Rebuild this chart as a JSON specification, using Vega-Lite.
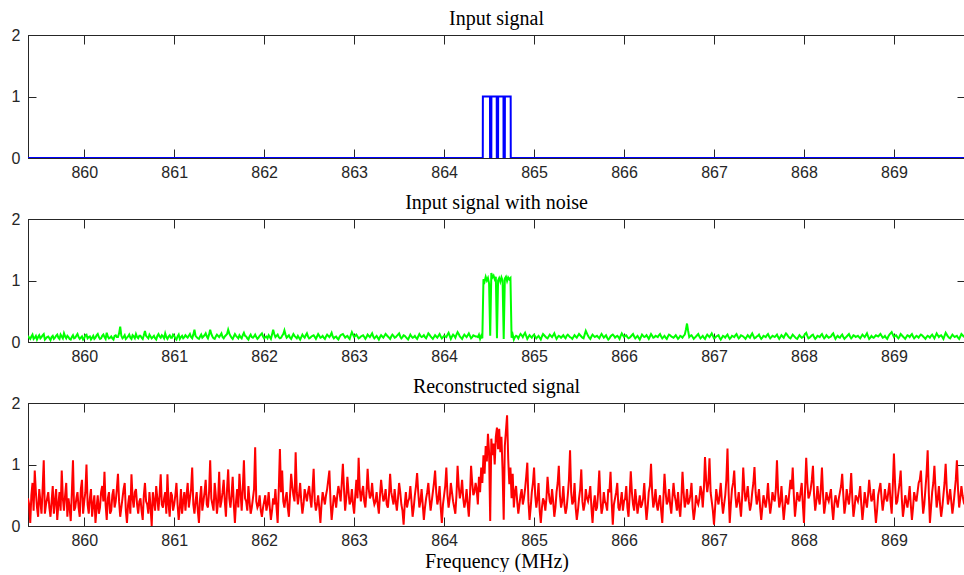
{
  "$schema": "https://vega.github.io/schema/vega-lite/v6.json",
  "background": "white",
  "padding": {"left": 10, "top": 8, "right": 0, "bottom": 0},
  "spacing": 11,
  "config": {
    "view": {"stroke": "#262626", "strokeWidth": 1},
    "axis": {
      "grid": false,
      "domainColor": "#262626",
      "tickColor": "#262626",
      "tickWidth": 1,
      "labelColor": "#262626",
      "labelFont": "Liberation Sans",
      "labelFontSize": 16,
      "labelFlush": false,
      "labelOverlap": false,
      "titleFont": "Liberation Serif",
      "titleFontSize": 20,
      "titleFontWeight": "normal",
      "titleColor": "black"
    },
    "title": {"font": "Liberation Serif", "fontSize": 20, "fontWeight": "normal", "color": "black", "offset": -2}
  },
  "datasets": {
    "clean": [
      {"f": 859.375, "v": 0}, {"f": 864.43, "v": 0}, {"f": 864.431, "v": 1}, {"f": 864.51, "v": 1},
      {"f": 864.511, "v": 0}, {"f": 864.525, "v": 0}, {"f": 864.526, "v": 1}, {"f": 864.585, "v": 1},
      {"f": 864.586, "v": 0}, {"f": 864.6, "v": 0}, {"f": 864.601, "v": 1}, {"f": 864.66, "v": 1},
      {"f": 864.661, "v": 0}, {"f": 864.675, "v": 0}, {"f": 864.676, "v": 1}, {"f": 864.74, "v": 1},
      {"f": 864.741, "v": 0}, {"f": 869.8, "v": 0}
    ],
    "sig": [
      {"f":859.375,"n":0.10,"r":0.45},{"f":859.4,"n":0.05,"r":0.05},{"f":859.425,"n":0.12,"r":0.70},{"f":859.45,"n":0.07,"r":0.90},{"f":859.475,"n":0.04,"r":0.30},
      {"f":859.5,"n":0.11,"r":0.60},{"f":859.525,"n":0.08,"r":0.20},{"f":859.55,"n":0.13,"r":1.07},{"f":859.575,"n":0.06,"r":0.35},{"f":859.6,"n":0.09,"r":0.55},
      {"f":859.625,"n":0.03,"r":0.15},{"f":859.65,"n":0.10,"r":0.65},{"f":859.675,"n":0.07,"r":0.40},{"f":859.7,"n":0.12,"r":0.10},{"f":859.725,"n":0.05,"r":0.55},
      {"f":859.75,"n":0.09,"r":0.90},{"f":859.775,"n":0.14,"r":0.25},{"f":859.8,"n":0.06,"r":0.70},{"f":859.825,"n":0.08,"r":0.45},{"f":859.85,"n":0.04,"r":0.08},
      {"f":859.875,"n":0.11,"r":1.07},{"f":859.9,"n":0.07,"r":0.30},{"f":859.925,"n":0.13,"r":0.55},{"f":859.95,"n":0.05,"r":0.15},{"f":859.975,"n":0.09,"r":0.75},
      {"f":860.0,"n":0.06,"r":0.40},{"f":860.025,"n":0.12,"r":1.00},{"f":860.05,"n":0.08,"r":0.20},{"f":860.075,"n":0.04,"r":0.60},{"f":860.1,"n":0.10,"r":0.35},
      {"f":860.125,"n":0.07,"r":0.05},{"f":860.15,"n":0.13,"r":0.50},{"f":860.175,"n":0.05,"r":0.30},{"f":860.2,"n":0.10,"r":0.65},{"f":860.225,"n":0.08,"r":0.88},
      {"f":860.25,"n":0.15,"r":0.10},{"f":860.275,"n":0.06,"r":0.55},{"f":860.3,"n":0.09,"r":0.25},{"f":860.325,"n":0.04,"r":0.60},{"f":860.35,"n":0.11,"r":0.40},
      {"f":860.375,"n":0.08,"r":0.85},{"f":860.4,"n":0.25,"r":0.15},{"f":860.425,"n":0.06,"r":0.45},{"f":860.45,"n":0.11,"r":0.70},{"f":860.475,"n":0.07,"r":0.05},
      {"f":860.5,"n":0.12,"r":0.50},{"f":860.525,"n":0.05,"r":0.84},{"f":860.55,"n":0.09,"r":0.30},{"f":860.575,"n":0.13,"r":0.60},{"f":860.6,"n":0.06,"r":0.20},
      {"f":860.625,"n":0.10,"r":0.45},{"f":860.65,"n":0.05,"r":0.10},{"f":860.675,"n":0.18,"r":0.70},{"f":860.7,"n":0.08,"r":0.35},{"f":860.725,"n":0.12,"r":0.55},
      {"f":860.75,"n":0.06,"r":0.00},{"f":860.775,"n":0.10,"r":0.40},{"f":860.8,"n":0.04,"r":0.65},{"f":860.825,"n":0.13,"r":0.25},{"f":860.85,"n":0.07,"r":0.84},
      {"f":860.875,"n":0.09,"r":0.30},{"f":860.9,"n":0.14,"r":0.55},{"f":860.925,"n":0.05,"r":0.84},{"f":860.95,"n":0.11,"r":0.15},{"f":860.975,"n":0.07,"r":0.50},
      {"f":861.0,"n":0.10,"r":0.35},{"f":861.025,"n":0.04,"r":0.70},{"f":861.05,"n":0.12,"r":0.10},{"f":861.075,"n":0.08,"r":0.60},{"f":861.1,"n":0.06,"r":0.40},
      {"f":861.125,"n":0.11,"r":0.25},{"f":861.15,"n":0.07,"r":0.70},{"f":861.175,"n":0.13,"r":0.45},{"f":861.2,"n":0.06,"r":0.95},{"f":861.225,"n":0.20,"r":0.20},
      {"f":861.25,"n":0.08,"r":0.55},{"f":861.275,"n":0.05,"r":0.05},{"f":861.3,"n":0.12,"r":0.65},{"f":861.325,"n":0.09,"r":0.40},{"f":861.35,"n":0.14,"r":0.75},
      {"f":861.375,"n":0.06,"r":0.30},{"f":861.4,"n":0.20,"r":1.07},{"f":861.425,"n":0.09,"r":0.35},{"f":861.45,"n":0.05,"r":0.70},{"f":861.475,"n":0.12,"r":0.20},
      {"f":861.5,"n":0.08,"r":0.88},{"f":861.525,"n":0.14,"r":0.40},{"f":861.55,"n":0.06,"r":0.75},{"f":861.575,"n":0.11,"r":0.15},{"f":861.6,"n":0.20,"r":0.92},
      {"f":861.625,"n":0.10,"r":0.30},{"f":861.65,"n":0.05,"r":0.80},{"f":861.675,"n":0.13,"r":0.05},{"f":861.7,"n":0.08,"r":0.60},{"f":861.725,"n":0.11,"r":0.85},
      {"f":861.75,"n":0.06,"r":0.25},{"f":861.775,"n":0.15,"r":1.07},{"f":861.8,"n":0.09,"r":0.40},{"f":861.825,"n":0.04,"r":0.65},{"f":861.85,"n":0.12,"r":0.20},
      {"f":861.875,"n":0.07,"r":0.45},{"f":861.9,"n":0.12,"r":1.28},{"f":861.925,"n":0.05,"r":0.30},{"f":861.95,"n":0.10,"r":0.50},{"f":861.975,"n":0.14,"r":0.15},
      {"f":862.0,"n":0.06,"r":0.40},{"f":862.025,"n":0.09,"r":0.25},{"f":862.05,"n":0.11,"r":0.55},{"f":862.075,"n":0.05,"r":0.10},{"f":862.1,"n":0.20,"r":0.45},
      {"f":862.125,"n":0.08,"r":0.60},{"f":862.15,"n":0.12,"r":0.05},{"f":862.175,"n":0.06,"r":1.25},{"f":862.2,"n":0.10,"r":0.90},{"f":862.225,"n":0.19,"r":0.30},
      {"f":862.25,"n":0.07,"r":0.55},{"f":862.275,"n":0.11,"r":0.15},{"f":862.3,"n":0.05,"r":0.85},{"f":862.325,"n":0.13,"r":0.50},{"f":862.35,"n":0.08,"r":1.20},
      {"f":862.375,"n":0.10,"r":0.35},{"f":862.4,"n":0.04,"r":0.70},{"f":862.425,"n":0.12,"r":0.20},{"f":862.45,"n":0.07,"r":0.60},{"f":862.475,"n":0.14,"r":0.40},
      {"f":862.5,"n":0.06,"r":0.65},{"f":862.525,"n":0.09,"r":0.30},{"f":862.55,"n":0.11,"r":0.93},{"f":862.575,"n":0.05,"r":0.25},{"f":862.6,"n":0.13,"r":0.50},
      {"f":862.625,"n":0.07,"r":0.05},{"f":862.65,"n":0.10,"r":0.55},{"f":862.675,"n":0.05,"r":0.35},{"f":862.7,"n":0.12,"r":0.60},{"f":862.725,"n":0.08,"r":0.90},
      {"f":862.75,"n":0.15,"r":0.10},{"f":862.775,"n":0.06,"r":0.50},{"f":862.8,"n":0.09,"r":0.30},{"f":862.825,"n":0.04,"r":0.65},{"f":862.85,"n":0.11,"r":0.40},
      {"f":862.875,"n":0.13,"r":1.01},{"f":862.9,"n":0.07,"r":0.25},{"f":862.925,"n":0.10,"r":0.80},{"f":862.95,"n":0.05,"r":0.35},{"f":862.975,"n":0.16,"r":0.60},
      {"f":863.0,"n":0.08,"r":0.20},{"f":863.025,"n":0.12,"r":0.75},{"f":863.05,"n":0.06,"r":1.11},{"f":863.075,"n":0.09,"r":0.40},{"f":863.1,"n":0.11,"r":0.65},
      {"f":863.125,"n":0.05,"r":0.30},{"f":863.15,"n":0.12,"r":0.93},{"f":863.175,"n":0.08,"r":0.45},{"f":863.2,"n":0.14,"r":0.70},{"f":863.225,"n":0.06,"r":0.35},
      {"f":863.25,"n":0.10,"r":0.55},{"f":863.275,"n":0.04,"r":0.20},{"f":863.3,"n":0.11,"r":0.75},{"f":863.325,"n":0.07,"r":0.40},{"f":863.35,"n":0.13,"r":0.60},
      {"f":863.375,"n":0.09,"r":0.30},{"f":863.4,"n":0.05,"r":0.85},{"f":863.425,"n":0.12,"r":0.45},{"f":863.45,"n":0.07,"r":0.60},{"f":863.475,"n":0.10,"r":0.25},
      {"f":863.5,"n":0.14,"r":0.70},{"f":863.525,"n":0.06,"r":0.35},{"f":863.55,"n":0.11,"r":0.02},{"f":863.575,"n":0.08,"r":0.55},{"f":863.6,"n":0.04,"r":0.40},
      {"f":863.625,"n":0.12,"r":0.65},{"f":863.65,"n":0.07,"r":0.15},{"f":863.675,"n":0.10,"r":0.50},{"f":863.7,"n":0.05,"r":0.86},{"f":863.725,"n":0.13,"r":0.30},
      {"f":863.75,"n":0.08,"r":0.60},{"f":863.775,"n":0.11,"r":0.10},{"f":863.8,"n":0.06,"r":0.45},{"f":863.825,"n":0.14,"r":0.70},{"f":863.85,"n":0.09,"r":0.25},
      {"f":863.875,"n":0.05,"r":0.55},{"f":863.9,"n":0.11,"r":0.90},{"f":863.925,"n":0.07,"r":0.35},{"f":863.95,"n":0.13,"r":0.65},{"f":863.975,"n":0.06,"r":0.05},
      {"f":864.0,"n":0.10,"r":0.50},{"f":864.025,"n":0.08,"r":0.95},{"f":864.05,"n":0.15,"r":0.30},{"f":864.075,"n":0.05,"r":0.70},{"f":864.1,"n":0.12,"r":0.40},
      {"f":864.125,"n":0.07,"r":0.20},{"f":864.15,"n":0.16,"r":0.98},{"f":864.175,"n":0.09,"r":0.45},{"f":864.2,"n":0.05,"r":0.75},{"f":864.225,"n":0.12,"r":0.30},
      {"f":864.25,"n":0.08,"r":0.60},{"f":864.275,"n":0.14,"r":0.15},{"f":864.3,"n":0.06,"r":0.98},{"f":864.325,"n":0.11,"r":0.50},{"f":864.35,"n":0.09,"r":0.70},
      {"f":864.375,"n":0.08,"r":0.35},{"f":864.3875,"n":0.12,"r":0.80},{"f":864.4,"n":0.05,"r":0.55},{"f":864.4125,"n":0.10,"r":0.95},{"f":864.425,"n":0.06,"r":0.70},
      {"f":864.4375,"n":1.02,"r":1.15},{"f":864.45,"n":0.98,"r":0.85},{"f":864.4625,"n":1.06,"r":1.30},{"f":864.475,"n":1.00,"r":1.05},{"f":864.4875,"n":1.04,"r":1.50},
      {"f":864.5,"n":0.95,"r":1.20},{"f":864.5125,"n":0.10,"r":0.08},{"f":864.525,"n":1.12,"r":1.42},{"f":864.5375,"n":1.05,"r":1.15},{"f":864.55,"n":1.08,"r":1.34},
      {"f":864.5625,"n":1.02,"r":1.00},{"f":864.575,"n":1.06,"r":1.45},{"f":864.5875,"n":0.06,"r":1.60},{"f":864.6,"n":1.00,"r":1.25},{"f":864.6125,"n":1.04,"r":1.58},
      {"f":864.625,"n":0.98,"r":1.20},{"f":864.6375,"n":1.05,"r":1.45},{"f":864.65,"n":1.00,"r":0.90},{"f":864.6625,"n":0.05,"r":0.10},{"f":864.675,"n":1.03,"r":1.30},
      {"f":864.6875,"n":1.06,"r":1.55},{"f":864.7,"n":0.99,"r":1.80},{"f":864.7125,"n":1.05,"r":1.10},{"f":864.725,"n":1.02,"r":0.68},{"f":864.7375,"n":1.04,"r":0.95},
      {"f":864.75,"n":0.07,"r":0.45},{"f":864.7625,"n":0.12,"r":0.85},{"f":864.775,"n":0.04,"r":0.30},
      {"f":864.8,"n":0.10,"r":0.65},{"f":864.825,"n":0.06,"r":0.20},{"f":864.85,"n":0.13,"r":0.50},
      {"f":864.875,"n":0.08,"r":0.35},{"f":864.9,"n":0.15,"r":0.60},{"f":864.925,"n":0.05,"r":1.03},{"f":864.95,"n":0.11,"r":0.10},{"f":864.975,"n":0.07,"r":0.55},
      {"f":865.0,"n":0.12,"r":0.95},{"f":865.025,"n":0.06,"r":0.30},{"f":865.05,"n":0.10,"r":0.70},{"f":865.075,"n":0.04,"r":0.05},{"f":865.1,"n":0.13,"r":0.45},
      {"f":865.125,"n":0.09,"r":0.25},{"f":865.15,"n":0.06,"r":0.80},{"f":865.175,"n":0.12,"r":0.40},{"f":865.2,"n":0.08,"r":0.60},{"f":865.225,"n":0.14,"r":0.15},
      {"f":865.25,"n":0.05,"r":0.55},{"f":865.275,"n":0.10,"r":0.98},{"f":865.3,"n":0.07,"r":0.30},{"f":865.325,"n":0.11,"r":0.65},{"f":865.35,"n":0.06,"r":0.20},
      {"f":865.375,"n":0.12,"r":0.50},{"f":865.4,"n":0.08,"r":1.23},{"f":865.425,"n":0.05,"r":0.35},{"f":865.45,"n":0.11,"r":0.70},{"f":865.475,"n":0.07,"r":0.10},
      {"f":865.5,"n":0.13,"r":0.45},{"f":865.525,"n":0.09,"r":0.92},{"f":865.55,"n":0.06,"r":0.25},{"f":865.575,"n":0.18,"r":0.60},{"f":865.6,"n":0.10,"r":0.40},
      {"f":865.625,"n":0.05,"r":0.65},{"f":865.65,"n":0.12,"r":0.05},{"f":865.675,"n":0.08,"r":0.50},{"f":865.7,"n":0.10,"r":0.30},{"f":865.725,"n":0.06,"r":0.90},
      {"f":865.75,"n":0.13,"r":0.20},{"f":865.775,"n":0.07,"r":0.55},{"f":865.8,"n":0.11,"r":0.35},{"f":865.825,"n":0.04,"r":0.60},{"f":865.85,"n":0.09,"r":0.88},
      {"f":865.875,"n":0.12,"r":0.02},{"f":865.9,"n":0.07,"r":0.45},{"f":865.925,"n":0.10,"r":0.70},{"f":865.95,"n":0.05,"r":0.25},{"f":865.975,"n":0.14,"r":0.55},
      {"f":866.0,"n":0.08,"r":0.40},{"f":866.025,"n":0.11,"r":0.65},{"f":866.05,"n":0.06,"r":0.15},{"f":866.075,"n":0.09,"r":0.89},{"f":866.1,"n":0.13,"r":0.35},
      {"f":866.125,"n":0.06,"r":0.60},{"f":866.15,"n":0.10,"r":0.20},{"f":866.175,"n":0.04,"r":0.50},{"f":866.2,"n":0.12,"r":0.35},{"f":866.225,"n":0.08,"r":0.70},
      {"f":866.25,"n":0.11,"r":0.10},{"f":866.275,"n":0.05,"r":0.55},{"f":866.3,"n":0.13,"r":1.01},{"f":866.325,"n":0.07,"r":0.30},{"f":866.35,"n":0.10,"r":0.60},
      {"f":866.375,"n":0.08,"r":0.25},{"f":866.4,"n":0.13,"r":0.50},{"f":866.425,"n":0.06,"r":0.05},{"f":866.45,"n":0.10,"r":0.85},{"f":866.475,"n":0.05,"r":0.35},
      {"f":866.5,"n":0.12,"r":0.60},{"f":866.525,"n":0.09,"r":0.20},{"f":866.55,"n":0.07,"r":0.70},{"f":866.575,"n":0.11,"r":0.40},{"f":866.6,"n":0.05,"r":0.55},
      {"f":866.625,"n":0.10,"r":0.15},{"f":866.65,"n":0.07,"r":0.88},{"f":866.675,"n":0.12,"r":0.30},{"f":866.7,"n":0.30,"r":0.60},{"f":866.725,"n":0.08,"r":0.40},
      {"f":866.75,"n":0.11,"r":0.70},{"f":866.775,"n":0.05,"r":0.10},{"f":866.8,"n":0.09,"r":0.50},{"f":866.825,"n":0.13,"r":0.35},{"f":866.85,"n":0.06,"r":0.65},
      {"f":866.875,"n":0.10,"r":0.30},{"f":866.9,"n":0.05,"r":1.12},{"f":866.925,"n":0.12,"r":0.55},{"f":866.95,"n":0.08,"r":1.10},{"f":866.975,"n":0.14,"r":0.40},
      {"f":867.0,"n":0.06,"r":0.02},{"f":867.025,"n":0.09,"r":0.60},{"f":867.05,"n":0.11,"r":0.35},{"f":867.075,"n":0.04,"r":0.70},{"f":867.1,"n":0.10,"r":0.20},
      {"f":867.125,"n":0.07,"r":0.50},{"f":867.15,"n":0.12,"r":1.26},{"f":867.175,"n":0.05,"r":0.05},{"f":867.2,"n":0.10,"r":0.60},{"f":867.225,"n":0.08,"r":0.90},
      {"f":867.25,"n":0.13,"r":0.30},{"f":867.275,"n":0.06,"r":0.55},{"f":867.3,"n":0.11,"r":0.15},{"f":867.325,"n":0.09,"r":0.95},{"f":867.35,"n":0.05,"r":0.40},
      {"f":867.375,"n":0.11,"r":0.65},{"f":867.4,"n":0.07,"r":0.25},{"f":867.425,"n":0.14,"r":0.55},{"f":867.45,"n":0.06,"r":0.96},{"f":867.475,"n":0.09,"r":0.35},
      {"f":867.5,"n":0.12,"r":0.60},{"f":867.525,"n":0.05,"r":0.10},{"f":867.55,"n":0.10,"r":0.50},{"f":867.575,"n":0.08,"r":0.30},{"f":867.6,"n":0.13,"r":0.70},
      {"f":867.625,"n":0.06,"r":0.20},{"f":867.65,"n":0.10,"r":0.55},{"f":867.675,"n":0.08,"r":0.40},{"f":867.7,"n":0.12,"r":1.07},{"f":867.725,"n":0.05,"r":0.30},
      {"f":867.75,"n":0.11,"r":0.65},{"f":867.775,"n":0.07,"r":0.10},{"f":867.8,"n":0.14,"r":0.50},{"f":867.825,"n":0.09,"r":0.35},{"f":867.85,"n":0.06,"r":0.75},
      {"f":867.875,"n":0.12,"r":0.95},{"f":867.9,"n":0.08,"r":0.15},{"f":867.925,"n":0.05,"r":0.55},{"f":867.95,"n":0.11,"r":0.40},{"f":867.975,"n":0.07,"r":0.70},
      {"f":868.0,"n":0.10,"r":0.05},{"f":868.025,"n":0.15,"r":1.11},{"f":868.05,"n":0.06,"r":0.45},{"f":868.075,"n":0.09,"r":0.60},{"f":868.1,"n":0.12,"r":0.98},
      {"f":868.125,"n":0.05,"r":0.25},{"f":868.15,"n":0.10,"r":0.65},{"f":868.175,"n":0.08,"r":0.35},{"f":868.2,"n":0.13,"r":0.95},{"f":868.225,"n":0.06,"r":0.20},
      {"f":868.25,"n":0.11,"r":0.55},{"f":868.275,"n":0.07,"r":0.40},{"f":868.3,"n":0.09,"r":0.60},{"f":868.325,"n":0.14,"r":0.10},{"f":868.35,"n":0.05,"r":0.50},
      {"f":868.375,"n":0.10,"r":0.30},{"f":868.4,"n":0.07,"r":0.55},{"f":868.425,"n":0.12,"r":0.85},{"f":868.45,"n":0.05,"r":0.20},{"f":868.475,"n":0.09,"r":0.60},
      {"f":868.5,"n":0.13,"r":0.35},{"f":868.525,"n":0.06,"r":0.86},{"f":868.55,"n":0.11,"r":0.15},{"f":868.575,"n":0.08,"r":0.50},{"f":868.6,"n":0.10,"r":0.40},
      {"f":868.625,"n":0.06,"r":0.65},{"f":868.65,"n":0.12,"r":0.10},{"f":868.675,"n":0.08,"r":0.55},{"f":868.7,"n":0.14,"r":0.30},{"f":868.725,"n":0.05,"r":0.75},
      {"f":868.75,"n":0.10,"r":0.40},{"f":868.775,"n":0.07,"r":0.60},{"f":868.8,"n":0.11,"r":0.05},{"f":868.825,"n":0.09,"r":0.50},{"f":868.85,"n":0.13,"r":0.70},
      {"f":868.875,"n":0.07,"r":0.25},{"f":868.9,"n":0.10,"r":0.60},{"f":868.925,"n":0.05,"r":0.40},{"f":868.95,"n":0.12,"r":0.70},{"f":868.975,"n":0.16,"r":0.20},
      {"f":869.0,"n":0.08,"r":1.18},{"f":869.025,"n":0.11,"r":0.35},{"f":869.05,"n":0.06,"r":0.55},{"f":869.075,"n":0.13,"r":0.90},{"f":869.1,"n":0.09,"r":0.15},
      {"f":869.125,"n":0.05,"r":0.50},{"f":869.15,"n":0.11,"r":0.30},{"f":869.175,"n":0.08,"r":0.65},{"f":869.2,"n":0.13,"r":0.10},{"f":869.225,"n":0.06,"r":0.55},
      {"f":869.25,"n":0.10,"r":0.40},{"f":869.275,"n":0.07,"r":0.70},{"f":869.3,"n":0.12,"r":0.90},{"f":869.325,"n":0.09,"r":0.20},{"f":869.35,"n":0.05,"r":0.60},
      {"f":869.375,"n":0.10,"r":1.23},{"f":869.4,"n":0.07,"r":0.05},{"f":869.425,"n":0.12,"r":0.55},{"f":869.45,"n":0.06,"r":0.98},{"f":869.475,"n":0.14,"r":0.30},
      {"f":869.5,"n":0.08,"r":0.65},{"f":869.525,"n":0.11,"r":0.15},{"f":869.55,"n":0.05,"r":0.50},{"f":869.575,"n":0.15,"r":1.01},{"f":869.6,"n":0.09,"r":0.35},
      {"f":869.625,"n":0.06,"r":0.60},{"f":869.65,"n":0.12,"r":0.20},{"f":869.675,"n":0.08,"r":0.55},{"f":869.7,"n":0.10,"r":1.07},{"f":869.725,"n":0.05,"r":0.30},
      {"f":869.75,"n":0.13,"r":0.65},{"f":869.775,"n":0.09,"r":0.40},{"f":869.8,"n":0.11,"r":0.50},

      {"f":859.3875,"n":0.07,"r":0.35},{"f":859.4125,"n":0.09,"r":0.50},{"f":859.4375,"n":0.05,"r":0.25},{"f":859.4625,"n":0.10,"r":0.55},{"f":859.4875,"n":0.08,"r":0.15},{"f":859.5125,"n":0.06,"r":0.40},{"f":859.5375,"n":0.11,"r":0.60},{"f":859.5625,"n":0.04,"r":0.20},{"f":859.5875,"n":0.08,"r":0.45},{"f":859.6125,"n":0.06,"r":0.30},
      {"f":859.6375,"n":0.08,"r":0.40},{"f":859.6625,"n":0.05,"r":0.20},{"f":859.6875,"n":0.10,"r":0.60},{"f":859.7125,"n":0.07,"r":0.35},{"f":859.7375,"n":0.12,"r":0.25},{"f":859.7625,"n":0.06,"r":0.45},{"f":859.7875,"n":0.09,"r":0.50},{"f":859.8125,"n":0.10,"r":0.15},{"f":859.8375,"n":0.05,"r":0.30},{"f":859.8625,"n":0.08,"r":0.55},
      {"f":859.8875,"n":0.06,"r":0.25},{"f":859.9125,"n":0.10,"r":0.45},{"f":859.9375,"n":0.08,"r":0.30},{"f":859.9625,"n":0.07,"r":0.60},{"f":859.9875,"n":0.04,"r":0.20},{"f":860.0125,"n":0.11,"r":0.55},{"f":860.0375,"n":0.06,"r":0.35},{"f":860.0625,"n":0.09,"r":0.45},{"f":860.0875,"n":0.07,"r":0.15},{"f":860.1125,"n":0.05,"r":0.50},
      {"f":860.1375,"n":0.11,"r":0.30},{"f":860.1625,"n":0.08,"r":0.20},{"f":860.1875,"n":0.06,"r":0.55},{"f":860.2125,"n":0.12,"r":0.40},{"f":860.2375,"n":0.05,"r":0.35},{"f":860.2625,"n":0.09,"r":0.45},{"f":860.2875,"n":0.07,"r":0.20},{"f":860.3125,"n":0.06,"r":0.50},{"f":860.3375,"n":0.10,"r":0.30},{"f":860.3625,"n":0.08,"r":0.60},
      {"f":860.3875,"n":0.14,"r":0.40},{"f":860.4125,"n":0.10,"r":0.30},{"f":860.4375,"n":0.08,"r":0.60},{"f":860.4625,"n":0.05,"r":0.25},{"f":860.4875,"n":0.09,"r":0.35},{"f":860.5125,"n":0.07,"r":0.20},{"f":860.5375,"n":0.11,"r":0.45},{"f":860.5625,"n":0.06,"r":0.55},{"f":860.5875,"n":0.08,"r":0.35},{"f":860.6125,"n":0.10,"r":0.40},
      {"f":860.6375,"n":0.07,"r":0.25},{"f":860.6625,"n":0.11,"r":0.50},{"f":860.6875,"n":0.10,"r":0.40},{"f":860.7125,"n":0.06,"r":0.20},{"f":860.7375,"n":0.09,"r":0.30},{"f":860.7625,"n":0.08,"r":0.55},{"f":860.7875,"n":0.06,"r":0.25},{"f":860.8125,"n":0.10,"r":0.45},{"f":860.8375,"n":0.09,"r":0.50},{"f":860.8625,"n":0.11,"r":0.35},
      {"f":860.8875,"n":0.06,"r":0.45},{"f":860.9125,"n":0.08,"r":0.20},{"f":860.9375,"n":0.09,"r":0.35},{"f":860.9625,"n":0.07,"r":0.55},{"f":860.9875,"n":0.12,"r":0.25},{"f":861.0125,"n":0.06,"r":0.50},{"f":861.0375,"n":0.09,"r":0.35},{"f":861.0625,"n":0.05,"r":0.30},{"f":861.0875,"n":0.10,"r":0.20},{"f":861.1125,"n":0.08,"r":0.55},
      {"f":861.1375,"n":0.09,"r":0.50},{"f":861.1625,"n":0.10,"r":0.30},{"f":861.1875,"n":0.08,"r":0.60},{"f":861.2125,"n":0.12,"r":0.35},{"f":861.2375,"n":0.10,"r":0.40},{"f":861.2625,"n":0.06,"r":0.25},{"f":861.2875,"n":0.09,"r":0.45},{"f":861.3125,"n":0.07,"r":0.25},{"f":861.3375,"n":0.11,"r":0.55},{"f":861.3625,"n":0.09,"r":0.35},
      {"f":861.3875,"n":0.12,"r":0.55},{"f":861.4125,"n":0.13,"r":0.45},{"f":861.4375,"n":0.06,"r":0.25},{"f":861.4625,"n":0.09,"r":0.50},{"f":861.4875,"n":0.10,"r":0.40},{"f":861.5125,"n":0.11,"r":0.30},{"f":861.5375,"n":0.08,"r":0.55},{"f":861.5625,"n":0.09,"r":0.40},{"f":861.5875,"n":0.13,"r":0.60},{"f":861.6125,"n":0.14,"r":0.45},
      {"f":861.6375,"n":0.07,"r":0.50},{"f":861.6625,"n":0.09,"r":0.35},{"f":861.6875,"n":0.10,"r":0.40},{"f":861.7125,"n":0.06,"r":0.30},{"f":861.7375,"n":0.08,"r":0.55},{"f":861.7625,"n":0.11,"r":0.60},{"f":861.7875,"n":0.10,"r":0.45},{"f":861.8125,"n":0.06,"r":0.25},{"f":861.8375,"n":0.09,"r":0.40},{"f":861.8625,"n":0.08,"r":0.30},
      {"f":861.8875,"n":0.09,"r":0.60},{"f":861.9125,"n":0.08,"r":0.40},{"f":861.9375,"n":0.07,"r":0.35},{"f":861.9625,"n":0.12,"r":0.25},{"f":861.9875,"n":0.09,"r":0.30},{"f":862.0125,"n":0.08,"r":0.50},{"f":862.0375,"n":0.06,"r":0.35},{"f":862.0625,"n":0.08,"r":0.30},{"f":862.0875,"n":0.12,"r":0.25},{"f":862.1125,"n":0.13,"r":0.35},
      {"f":862.1375,"n":0.10,"r":0.30},{"f":862.1625,"n":0.08,"r":0.60},{"f":862.1875,"n":0.07,"r":0.55},{"f":862.2125,"n":0.13,"r":0.40},{"f":862.2375,"n":0.12,"r":0.45},{"f":862.2625,"n":0.09,"r":0.30},{"f":862.2875,"n":0.07,"r":0.50},{"f":862.3125,"n":0.09,"r":0.65},{"f":862.3375,"n":0.10,"r":0.40},{"f":862.3625,"n":0.06,"r":0.55},
      {"f":862.3875,"n":0.07,"r":0.50},{"f":862.4125,"n":0.08,"r":0.40},{"f":862.4375,"n":0.09,"r":0.35},{"f":862.4625,"n":0.11,"r":0.50},{"f":862.4875,"n":0.09,"r":0.55},{"f":862.5125,"n":0.07,"r":0.45},{"f":862.5375,"n":0.10,"r":0.60},{"f":862.5625,"n":0.08,"r":0.40},{"f":862.5875,"n":0.09,"r":0.35},{"f":862.6125,"n":0.10,"r":0.30},
      {"f":862.6375,"n":0.08,"r":0.35},{"f":862.6625,"n":0.07,"r":0.45},{"f":862.6875,"n":0.09,"r":0.50},{"f":862.7125,"n":0.10,"r":0.75},{"f":862.7375,"n":0.11,"r":0.40},{"f":862.7625,"n":0.09,"r":0.30},{"f":862.7875,"n":0.08,"r":0.45},{"f":862.8125,"n":0.06,"r":0.50},{"f":862.8375,"n":0.08,"r":0.55},{"f":862.8625,"n":0.12,"r":0.70},
      {"f":862.8875,"n":0.10,"r":0.60},{"f":862.9125,"n":0.09,"r":0.45},{"f":862.9375,"n":0.07,"r":0.55},{"f":862.9625,"n":0.11,"r":0.40},{"f":862.9875,"n":0.12,"r":0.35},{"f":863.0125,"n":0.10,"r":0.50},{"f":863.0375,"n":0.09,"r":0.45},{"f":863.0625,"n":0.07,"r":0.60},{"f":863.0875,"n":0.10,"r":0.55},{"f":863.1125,"n":0.08,"r":0.40},
      {"f":863.1375,"n":0.08,"r":0.55},{"f":863.1625,"n":0.10,"r":0.60},{"f":863.1875,"n":0.11,"r":0.50},{"f":863.2125,"n":0.09,"r":0.45},{"f":863.2375,"n":0.08,"r":0.40},{"f":863.2625,"n":0.07,"r":0.35},{"f":863.2875,"n":0.08,"r":0.50},{"f":863.3125,"n":0.09,"r":0.55},{"f":863.3375,"n":0.10,"r":0.45},{"f":863.3625,"n":0.11,"r":0.35},
      {"f":863.3875,"n":0.07,"r":0.50},{"f":863.4125,"n":0.09,"r":0.55},{"f":863.4375,"n":0.10,"r":0.35},{"f":863.4625,"n":0.08,"r":0.40},{"f":863.4875,"n":0.12,"r":0.45},{"f":863.5125,"n":0.09,"r":0.55},{"f":863.5375,"n":0.08,"r":0.25},{"f":863.5625,"n":0.10,"r":0.35},{"f":863.5875,"n":0.06,"r":0.30},{"f":863.6125,"n":0.08,"r":0.45},
      {"f":863.6375,"n":0.09,"r":0.40},{"f":863.6625,"n":0.08,"r":0.30},{"f":863.6875,"n":0.07,"r":0.65},{"f":863.7125,"n":0.09,"r":0.55},{"f":863.7375,"n":0.10,"r":0.40},{"f":863.7625,"n":0.09,"r":0.35},{"f":863.7875,"n":0.08,"r":0.30},{"f":863.8125,"n":0.10,"r":0.55},{"f":863.8375,"n":0.12,"r":0.45},{"f":863.8625,"n":0.07,"r":0.40},
      {"f":863.8875,"n":0.08,"r":0.70},{"f":863.9125,"n":0.09,"r":0.55},{"f":863.9375,"n":0.10,"r":0.45},{"f":863.9625,"n":0.09,"r":0.30},{"f":863.9875,"n":0.08,"r":0.35},{"f":864.0125,"n":0.09,"r":0.65},{"f":864.0375,"n":0.12,"r":0.50},{"f":864.0625,"n":0.10,"r":0.45},{"f":864.0875,"n":0.09,"r":0.55},{"f":864.1125,"n":0.10,"r":0.30},
      {"f":864.1375,"n":0.12,"r":0.50},{"f":864.1625,"n":0.13,"r":0.65},{"f":864.1875,"n":0.07,"r":0.55},{"f":864.2125,"n":0.09,"r":0.45},{"f":864.2375,"n":0.10,"r":0.40},{"f":864.2625,"n":0.11,"r":0.35},{"f":864.2875,"n":0.10,"r":0.50},{"f":864.3125,"n":0.08,"r":0.70},{"f":864.3375,"n":0.10,"r":0.55},{"f":864.3625,"n":0.09,"r":0.60},
      {"f":864.7875,"n":0.08,"r":0.55},{"f":864.8125,"n":0.09,"r":0.40},{"f":864.8375,"n":0.10,"r":0.35},{"f":864.8625,"n":0.11,"r":0.60},
      {"f":864.8875,"n":0.12,"r":0.45},{"f":864.9125,"n":0.10,"r":0.80},{"f":864.9375,"n":0.08,"r":0.40},{"f":864.9625,"n":0.09,"r":0.30},{"f":864.9875,"n":0.10,"r":0.70},{"f":865.0125,"n":0.09,"r":0.50},{"f":865.0375,"n":0.08,"r":0.45},{"f":865.0625,"n":0.07,"r":0.25},{"f":865.0875,"n":0.09,"r":0.30},{"f":865.1125,"n":0.11,"r":0.40},
      {"f":865.1375,"n":0.07,"r":0.45},{"f":865.1625,"n":0.09,"r":0.55},{"f":865.1875,"n":0.10,"r":0.35},{"f":865.2125,"n":0.11,"r":0.40},{"f":865.2375,"n":0.09,"r":0.30},{"f":865.2625,"n":0.08,"r":0.70},{"f":865.2875,"n":0.09,"r":0.50},{"f":865.3125,"n":0.09,"r":0.40},{"f":865.3375,"n":0.08,"r":0.35},{"f":865.3625,"n":0.10,"r":0.30},
      {"f":865.3875,"n":0.10,"r":0.75},{"f":865.4125,"n":0.07,"r":0.55},{"f":865.4375,"n":0.08,"r":0.40},{"f":865.4625,"n":0.09,"r":0.30},{"f":865.4875,"n":0.10,"r":0.25},{"f":865.5125,"n":0.11,"r":0.60},{"f":865.5375,"n":0.07,"r":0.40},{"f":865.5625,"n":0.12,"r":0.35},{"f":865.5875,"n":0.14,"r":0.45},{"f":865.6125,"n":0.07,"r":0.50},
      {"f":865.6375,"n":0.09,"r":0.30},{"f":865.6625,"n":0.10,"r":0.35},{"f":865.6875,"n":0.09,"r":0.25},{"f":865.7125,"n":0.08,"r":0.55},{"f":865.7375,"n":0.10,"r":0.45},{"f":865.7625,"n":0.10,"r":0.30},{"f":865.7875,"n":0.09,"r":0.40},{"f":865.8125,"n":0.07,"r":0.25},{"f":865.8375,"n":0.06,"r":0.55},{"f":865.8625,"n":0.11,"r":0.40},
      {"f":865.8875,"n":0.10,"r":0.35},{"f":865.9125,"n":0.09,"r":0.55},{"f":865.9375,"n":0.08,"r":0.30},{"f":865.9625,"n":0.10,"r":0.40},{"f":865.9875,"n":0.11,"r":0.25},{"f":866.0125,"n":0.10,"r":0.45},{"f":866.0375,"n":0.08,"r":0.30},{"f":866.0625,"n":0.07,"r":0.50},{"f":866.0875,"n":0.11,"r":0.55},{"f":866.1125,"n":0.09,"r":0.25},
      {"f":866.1375,"n":0.08,"r":0.40},{"f":866.1625,"n":0.07,"r":0.35},{"f":866.1875,"n":0.08,"r":0.30},{"f":866.2125,"n":0.10,"r":0.45},{"f":866.2375,"n":0.09,"r":0.35},{"f":866.2625,"n":0.08,"r":0.30},{"f":866.2875,"n":0.09,"r":0.65},{"f":866.3125,"n":0.10,"r":0.55},{"f":866.3375,"n":0.08,"r":0.40},{"f":866.3625,"n":0.09,"r":0.35},
      {"f":866.3875,"n":0.11,"r":0.40},{"f":866.4125,"n":0.09,"r":0.25},{"f":866.4375,"n":0.08,"r":0.45},{"f":866.4625,"n":0.07,"r":0.55},{"f":866.4875,"n":0.09,"r":0.40},{"f":866.5125,"n":0.11,"r":0.35},{"f":866.5375,"n":0.08,"r":0.45},{"f":866.5625,"n":0.09,"r":0.50},{"f":866.5875,"n":0.08,"r":0.25},{"f":866.6125,"n":0.07,"r":0.30},
      {"f":866.6375,"n":0.09,"r":0.45},{"f":866.6625,"n":0.10,"r":0.55},{"f":866.6875,"n":0.20,"r":0.40},{"f":866.7125,"n":0.18,"r":0.35},{"f":866.7375,"n":0.10,"r":0.50},{"f":866.7625,"n":0.08,"r":0.30},{"f":866.7875,"n":0.07,"r":0.25},{"f":866.8125,"n":0.11,"r":0.40},{"f":866.8375,"n":0.09,"r":0.45},{"f":866.8625,"n":0.08,"r":0.55},
      {"f":866.8875,"n":0.07,"r":0.60},{"f":866.9125,"n":0.09,"r":0.75},{"f":866.9375,"n":0.10,"r":0.70},{"f":866.9625,"n":0.11,"r":0.55},{"f":866.9875,"n":0.10,"r":0.25},{"f":867.0125,"n":0.07,"r":0.30},{"f":867.0375,"n":0.10,"r":0.45},{"f":867.0625,"n":0.07,"r":0.50},{"f":867.0875,"n":0.07,"r":0.40},{"f":867.1125,"n":0.09,"r":0.35},
      {"f":867.1375,"n":0.10,"r":0.75},{"f":867.1625,"n":0.08,"r":0.55},{"f":867.1875,"n":0.07,"r":0.35},{"f":867.2125,"n":0.09,"r":0.70},{"f":867.2375,"n":0.11,"r":0.50},{"f":867.2625,"n":0.09,"r":0.40},{"f":867.2875,"n":0.08,"r":0.35},{"f":867.3125,"n":0.10,"r":0.45},{"f":867.3375,"n":0.07,"r":0.60},{"f":867.3625,"n":0.08,"r":0.50},
      {"f":867.3875,"n":0.09,"r":0.40},{"f":867.4125,"n":0.11,"r":0.35},{"f":867.4375,"n":0.10,"r":0.70},{"f":867.4625,"n":0.07,"r":0.55},{"f":867.4875,"n":0.10,"r":0.45},{"f":867.5125,"n":0.08,"r":0.30},{"f":867.5375,"n":0.07,"r":0.30},{"f":867.5625,"n":0.09,"r":0.40},{"f":867.5875,"n":0.11,"r":0.45},{"f":867.6125,"n":0.09,"r":0.40},
      {"f":867.6375,"n":0.08,"r":0.35},{"f":867.6625,"n":0.09,"r":0.45},{"f":867.6875,"n":0.10,"r":0.60},{"f":867.7125,"n":0.08,"r":0.55},{"f":867.7375,"n":0.08,"r":0.40},{"f":867.7625,"n":0.09,"r":0.35},{"f":867.7875,"n":0.11,"r":0.30},{"f":867.8125,"n":0.12,"r":0.40},{"f":867.8375,"n":0.07,"r":0.55},{"f":867.8625,"n":0.09,"r":0.60},
      {"f":867.8875,"n":0.10,"r":0.50},{"f":867.9125,"n":0.06,"r":0.35},{"f":867.9375,"n":0.08,"r":0.45},{"f":867.9625,"n":0.09,"r":0.55},{"f":867.9875,"n":0.08,"r":0.35},{"f":868.0125,"n":0.13,"r":0.60},{"f":868.0375,"n":0.10,"r":0.70},{"f":868.0625,"n":0.07,"r":0.50},{"f":868.0875,"n":0.11,"r":0.75},{"f":868.1125,"n":0.08,"r":0.50},
      {"f":868.1375,"n":0.07,"r":0.40},{"f":868.1625,"n":0.09,"r":0.45},{"f":868.1875,"n":0.11,"r":0.60},{"f":868.2125,"n":0.09,"r":0.50},{"f":868.2375,"n":0.08,"r":0.35},{"f":868.2625,"n":0.09,"r":0.45},{"f":868.2875,"n":0.08,"r":0.50},{"f":868.3125,"n":0.12,"r":0.30},{"f":868.3375,"n":0.09,"r":0.35},{"f":868.3625,"n":0.08,"r":0.40},
      {"f":868.3875,"n":0.08,"r":0.45},{"f":868.4125,"n":0.10,"r":0.65},{"f":868.4375,"n":0.08,"r":0.50},{"f":868.4625,"n":0.07,"r":0.35},{"f":868.4875,"n":0.11,"r":0.45},{"f":868.5125,"n":0.09,"r":0.55},{"f":868.5375,"n":0.08,"r":0.45},{"f":868.5625,"n":0.10,"r":0.30},{"f":868.5875,"n":0.09,"r":0.45},{"f":868.6125,"n":0.08,"r":0.50},
      {"f":868.6375,"n":0.09,"r":0.35},{"f":868.6625,"n":0.10,"r":0.30},{"f":868.6875,"n":0.11,"r":0.40},{"f":868.7125,"n":0.09,"r":0.50},{"f":868.7375,"n":0.07,"r":0.55},{"f":868.7625,"n":0.08,"r":0.45},{"f":868.7875,"n":0.09,"r":0.30},{"f":868.8125,"n":0.10,"r":0.25},{"f":868.8375,"n":0.11,"r":0.60},{"f":868.8625,"n":0.10,"r":0.45},
      {"f":868.8875,"n":0.08,"r":0.40},{"f":868.9125,"n":0.07,"r":0.45},{"f":868.9375,"n":0.09,"r":0.55},{"f":868.9625,"n":0.14,"r":0.40},{"f":868.9875,"n":0.12,"r":0.65},{"f":869.0125,"n":0.10,"r":0.70},{"f":869.0375,"n":0.08,"r":0.40},{"f":869.0625,"n":0.09,"r":0.70},{"f":869.0875,"n":0.11,"r":0.45},{"f":869.1125,"n":0.07,"r":0.30},
      {"f":869.1375,"n":0.08,"r":0.40},{"f":869.1625,"n":0.10,"r":0.45},{"f":869.1875,"n":0.11,"r":0.35},{"f":869.2125,"n":0.09,"r":0.30},{"f":869.2375,"n":0.08,"r":0.45},{"f":869.2625,"n":0.09,"r":0.55},{"f":869.2875,"n":0.10,"r":0.75},{"f":869.3125,"n":0.11,"r":0.50},{"f":869.3375,"n":0.07,"r":0.35},{"f":869.3625,"n":0.08,"r":0.85},
      {"f":869.3875,"n":0.09,"r":0.55},{"f":869.4125,"n":0.10,"r":0.30},{"f":869.4375,"n":0.09,"r":0.70},{"f":869.4625,"n":0.10,"r":0.60},{"f":869.4875,"n":0.11,"r":0.45},{"f":869.5125,"n":0.10,"r":0.35},{"f":869.5375,"n":0.08,"r":0.30},{"f":869.5625,"n":0.10,"r":0.70},{"f":869.5875,"n":0.12,"r":0.60},{"f":869.6125,"n":0.07,"r":0.45},
      {"f":869.6375,"n":0.09,"r":0.40},{"f":869.6625,"n":0.10,"r":0.35},{"f":869.6875,"n":0.09,"r":0.75},{"f":869.7125,"n":0.07,"r":0.60},{"f":869.7375,"n":0.09,"r":0.45},{"f":869.7625,"n":0.11,"r":0.50},{"f":869.7875,"n":0.10,"r":0.45}
    ]
  },
  "vconcat": [
    {
      "title": "Input signal",
      "width": 937,
      "height": 123,
      "data": {"name": "clean"},
      "layer": [
        {
          "mark": {"type": "line", "color": "#0000ff", "strokeWidth": 2, "clip": true},
          "encoding": {
            "x": {"field": "f", "type": "quantitative", "scale": {"domain": [859.375, 869.79], "nice": false, "zero": false},
                  "axis": {"orient": "bottom", "values": [860, 861, 862, 863, 864, 865, 866, 867, 868, 869], "format": ".0f", "labelOverlap": false, "tickSize": -9, "labelPadding": 15, "title": null}},
            "y": {"field": "v", "type": "quantitative", "scale": {"domain": [0, 2], "nice": false},
                  "axis": {"orient": "left", "values": [0, 1, 2], "format": ".0f", "labelOverlap": false, "tickSize": -8, "labelPadding": 16, "title": null}}
          }
        },
        {
          "mark": {"type": "line", "strokeOpacity": 0},
          "encoding": {
            "x": {"field": "f", "type": "quantitative", "scale": {"domain": [859.375, 869.79], "nice": false, "zero": false},
                  "axis": {"orient": "top", "values": [860, 861, 862, 863, 864, 865, 866, 867, 868, 869], "labels": false, "tickSize": -9, "title": null}},
            "y": {"field": "v", "type": "quantitative", "scale": {"domain": [0, 2], "nice": false},
                  "axis": {"orient": "right", "values": [0, 1, 2], "labels": false, "tickSize": -8, "title": null}}
          }
        }
      ],
      "resolve": {"axis": {"x": "independent", "y": "independent"}}
    },
    {
      "title": "Input signal with noise",
      "width": 937,
      "height": 123,
      "data": {"name": "sig"},
      "layer": [
        {
          "mark": {"type": "line", "color": "#00ff00", "strokeWidth": 2, "clip": true},
          "encoding": {
            "x": {"field": "f", "type": "quantitative", "scale": {"domain": [859.375, 869.79], "nice": false, "zero": false},
                  "axis": {"orient": "bottom", "values": [860, 861, 862, 863, 864, 865, 866, 867, 868, 869], "format": ".0f", "labelOverlap": false, "tickSize": -9, "labelPadding": 15, "title": null}},
            "y": {"field": "n", "type": "quantitative", "scale": {"domain": [0, 2], "nice": false},
                  "axis": {"orient": "left", "values": [0, 1, 2], "format": ".0f", "labelOverlap": false, "tickSize": -8, "labelPadding": 16, "title": null}}
          }
        },
        {
          "mark": {"type": "line", "strokeOpacity": 0},
          "encoding": {
            "x": {"field": "f", "type": "quantitative", "scale": {"domain": [859.375, 869.79], "nice": false, "zero": false},
                  "axis": {"orient": "top", "values": [860, 861, 862, 863, 864, 865, 866, 867, 868, 869], "labels": false, "tickSize": -9, "title": null}},
            "y": {"field": "n", "type": "quantitative", "scale": {"domain": [0, 2], "nice": false},
                  "axis": {"orient": "right", "values": [0, 1, 2], "labels": false, "tickSize": -8, "title": null}}
          }
        }
      ],
      "resolve": {"axis": {"x": "independent", "y": "independent"}}
    },
    {
      "title": "Reconstructed signal",
      "width": 937,
      "height": 123,
      "data": {"name": "sig"},
      "layer": [
        {
          "mark": {"type": "line", "color": "#ff0000", "strokeWidth": 2, "clip": true},
          "encoding": {
            "x": {"field": "f", "type": "quantitative", "scale": {"domain": [859.375, 869.79], "nice": false, "zero": false},
                  "axis": {"orient": "bottom", "values": [860, 861, 862, 863, 864, 865, 866, 867, 868, 869], "format": ".0f", "labelOverlap": false, "tickSize": -9, "labelPadding": 15, "title": "Frequency (MHz)", "titlePadding": 3}},
            "y": {"field": "r", "type": "quantitative", "scale": {"domain": [0, 2], "nice": false},
                  "axis": {"orient": "left", "values": [0, 1, 2], "format": ".0f", "labelOverlap": false, "tickSize": -8, "labelPadding": 16, "title": null}}
          }
        },
        {
          "mark": {"type": "line", "strokeOpacity": 0},
          "encoding": {
            "x": {"field": "f", "type": "quantitative", "scale": {"domain": [859.375, 869.79], "nice": false, "zero": false},
                  "axis": {"orient": "top", "values": [860, 861, 862, 863, 864, 865, 866, 867, 868, 869], "labels": false, "tickSize": -9, "title": null}},
            "y": {"field": "r", "type": "quantitative", "scale": {"domain": [0, 2], "nice": false},
                  "axis": {"orient": "right", "values": [0, 1, 2], "labels": false, "tickSize": -8, "title": null}}
          }
        }
      ],
      "resolve": {"axis": {"x": "independent", "y": "independent"}}
    }
  ]
}
